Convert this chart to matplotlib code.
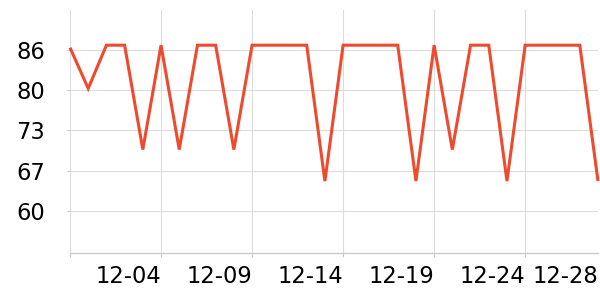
import numpy as np
import matplotlib
matplotlib.use('Agg')
import matplotlib.pyplot as plt

# Data (one point per day)
dates = ['11-29', '11-30'] + ['12-%02d' % d for d in range(1, 29)]
values = [86.4, 79.8, 86.8, 86.8, 69.9, 86.8, 69.9, 86.8, 86.8, 69.9,
          86.8, 86.8, 86.8, 86.8, 64.8, 86.8, 86.8, 86.8, 86.8, 64.8,
          86.8, 69.9, 86.8, 86.8, 64.8, 86.8, 86.8, 86.8, 86.8, 64.8]
y_ticks = [60, 66.5, 73, 79.5, 86]
y_tick_labels = ['60', '67', '73', '80', '86']
labelled_days = ['12-04', '12-09', '12-14', '12-19', '12-24']
extra_day = '12-28'

x = np.arange(len(dates))

fig = plt.figure(figsize=(6, 3), dpi=100)
ax = fig.add_axes([70 / 600, 47.3 / 300, 528 / 600, 242.7 / 300])

ax.plot(x, values, color='#ee4a2e', linewidth=2.2, solid_joinstyle='miter',
        solid_capstyle='butt', clip_on=False, zorder=3)

ax.set_xlim(0, len(dates) - 1)
ax.set_ylim(53.2, 92.5)

ax.set_yticks(y_ticks)
ax.set_yticklabels(y_tick_labels)

major = list(range(0, len(dates), 5))
ax.set_xticks(major)
ax.set_xticklabels([dates[i] if dates[i] in labelled_days else '' for i in major], ha='right')
ax.set_xticks([dates.index(extra_day)], minor=True)
ax.set_xticklabels([extra_day], minor=True, ha='right')

ax.grid(True, which='major', color='#dcdcdc', linewidth=0.8)
ax.set_axisbelow(True)
for s in ['top', 'right', 'left']:
    ax.spines[s].set_visible(False)
ax.spines['bottom'].set_color('#c8c8c8')
ax.spines['bottom'].set_linewidth(0.9)

ax.tick_params(axis='y', length=2, pad=16, labelsize=16.3, color='#c8c8c8', width=0.8)
ax.tick_params(axis='x', which='major', length=3, pad=6, labelsize=16.3, color='#c8c8c8', width=0.8)
ax.tick_params(axis='x', which='minor', length=0, pad=9, labelsize=16.3)

fig.savefig('out.png', dpi=100)
